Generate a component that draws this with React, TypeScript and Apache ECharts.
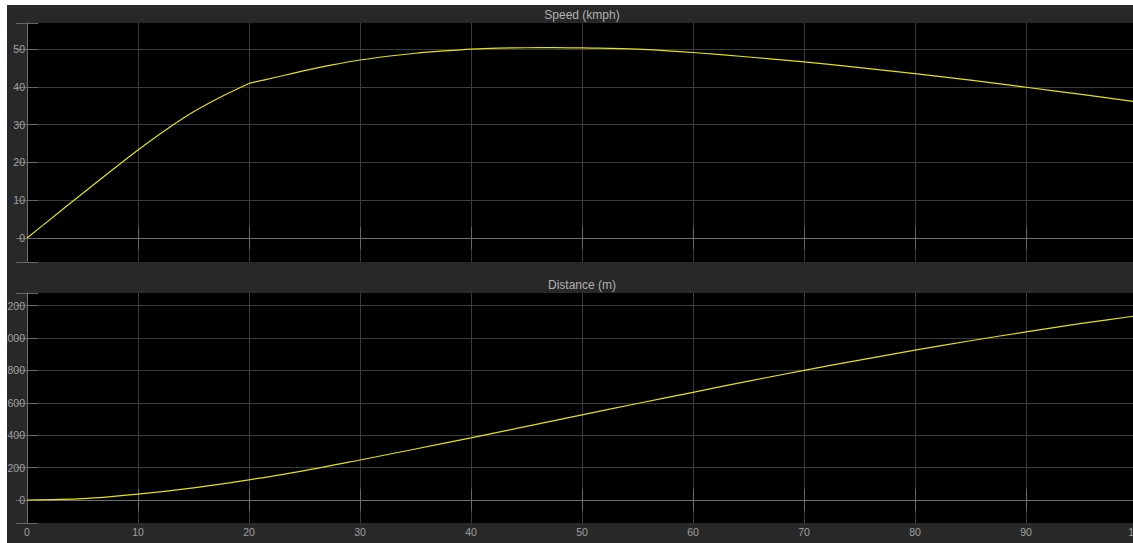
import React, { useEffect, useRef } from "react";
import * as echarts from "echarts";

// Simulation time (s) and vehicle speed (kmph)
const speedTime = [0, 2.5, 5, 7.5, 10, 12.5, 15, 17.5, 20, 22.5, 25, 27.5, 30, 32.5, 35, 37.5, 40, 42.5, 45, 47.5, 50, 55, 60, 65, 70, 75, 80, 85, 90, 95, 100];
const speedKmph = [0, 5.9, 11.8, 17.6, 23.3, 28.6, 33.4, 37.4, 40.9, 42.6, 44.3, 45.8, 47.1, 48.1, 48.9, 49.5, 50.0, 50.25, 50.35, 50.4, 50.3, 50.0, 49.1, 47.9, 46.6, 45.1, 43.5, 41.8, 39.9, 38.0, 36.0];

// Time (s) at which the acceleration phase ends
const accelEnd = 20;

// Simulation time (s) and travelled distance (m)
const distTime = [0, 5, 10, 15, 20, 25, 30, 35, 40, 45, 50, 55, 60, 65, 70, 75, 80, 85, 90, 95, 100];
const distanceM = [0, 8, 36, 75, 124, 181, 247, 315, 384, 455, 526, 596, 665, 734, 800, 864, 925, 983, 1038, 1090, 1138];

const titles = ["Speed (kmph)", "Distance (m)"];

const PANEL = "#282828";
const BOX = "#6e6e6e";
const TICK = "#686868";
const GRIDLINE = "#3b3b3b";
const LABEL = "#a0a0a0";
const TRACE = "#e2e214";
const FONT = "Arial, 'Liberation Sans', sans-serif";

export default function App() {
  const ref = useRef<HTMLDivElement>(null);

  useEffect(() => {
    if (!ref.current) return;
    const chart = echarts.init(ref.current, undefined, { renderer: "svg" });

    const grids = [
      { left: 20, top: 18, width: 1110, height: 239 },
      { left: 20, top: 288, width: 1110, height: 230 },
    ];

    const tickStyle = { show: true, inside: true, length: 11, lineStyle: { color: TICK, width: 1 } };
    const lineStyle = { show: true, lineStyle: { color: BOX, width: 1 } };

    const xAxisBase = (gridIndex: number, position: "bottom" | "top", labels: boolean) => ({
      type: "value",
      gridIndex,
      position,
      min: 0,
      max: 100,
      interval: 10,
      axisLine: lineStyle,
      axisTick: tickStyle,
      axisLabel: {
        show: labels,
        color: LABEL,
        fontSize: 10.5,
        fontFamily: FONT,
        margin: 3,
      },
      splitLine: position === "bottom"
        ? { show: true, showMinLine: false, showMaxLine: false, lineStyle: { color: GRIDLINE, width: 1 } }
        : { show: false },
    });

    const yAxisBase = (
      gridIndex: number,
      position: "left" | "right",
      min: number,
      max: number,
      step: number,
    ) => ({
      type: "value",
      gridIndex,
      position,
      min,
      max,
      minInterval: step,
      maxInterval: step,
      splitNumber: 6,
      axisLine: lineStyle,
      axisTick: tickStyle,
      axisLabel: {
        show: position === "left",
        color: LABEL,
        fontSize: 10.5,
        fontFamily: FONT,
        margin: 2,
        formatter: (v: number) => (Math.abs(v / step - Math.round(v / step)) < 1e-6 ? String(Math.round(v)) : ""),
      },
      splitLine: position === "left"
        ? { show: true, showMinLine: false, showMaxLine: false, lineStyle: { color: GRIDLINE, width: 1 } }
        : { show: false },
    });

    const speedPoints = speedTime.map((t, i) => [t, speedKmph[i]]);
    const accelPhase = speedPoints.filter((p) => p[0] <= accelEnd);
    const cruisePhase = speedPoints.filter((p) => p[0] >= accelEnd);

    const trace = (xAxisIndex: number, yAxisIndex: number, data: number[][]) => ({
      type: "line",
      xAxisIndex,
      yAxisIndex,
      data,
      showSymbol: false,
      smooth: 0.3,
      lineStyle: { color: TRACE, width: 1.2 },
      clip: true,
    });

    chart.setOption({
      animation: false,
      backgroundColor: PANEL,
      grid: grids.map((g) => ({
        ...g,
        show: true,
        backgroundColor: "#000000",
        borderWidth: 0,
        outerBoundsMode: "none",
        containLabel: false,
      })),
      xAxis: [
        xAxisBase(0, "bottom", false),
        xAxisBase(0, "top", false),
        xAxisBase(1, "bottom", true),
        xAxisBase(1, "top", false),
      ],
      yAxis: [
        yAxisBase(0, "left", -6.35, 56.9, 10),
        yAxisBase(0, "right", -6.35, 56.9, 10),
        yAxisBase(1, "left", -142, 1278, 200),
        yAxisBase(1, "right", -142, 1278, 200),
      ],
      graphic: titles.map((t, i) => ({
        type: "text",
        x: grids[i].left + grids[i].width / 2,
        y: grids[i].top - 8,
        style: {
          text: t,
          fill: "#b0b0b0",
          font: `12px ${FONT}`,
          textAlign: "center",
          textVerticalAlign: "middle",
        },
      })),
      series: [
        trace(0, 0, accelPhase),
        trace(0, 0, cruisePhase),
        trace(2, 2, distTime.map((t, i) => [t, distanceM[i]])),
      ],
    });

    return () => chart.dispose();
  }, []);

  return (
    <div
      ref={ref}
      style={{ position: "fixed", left: 7, top: 5, width: 1126, height: 538 }}
    />
  );
}
